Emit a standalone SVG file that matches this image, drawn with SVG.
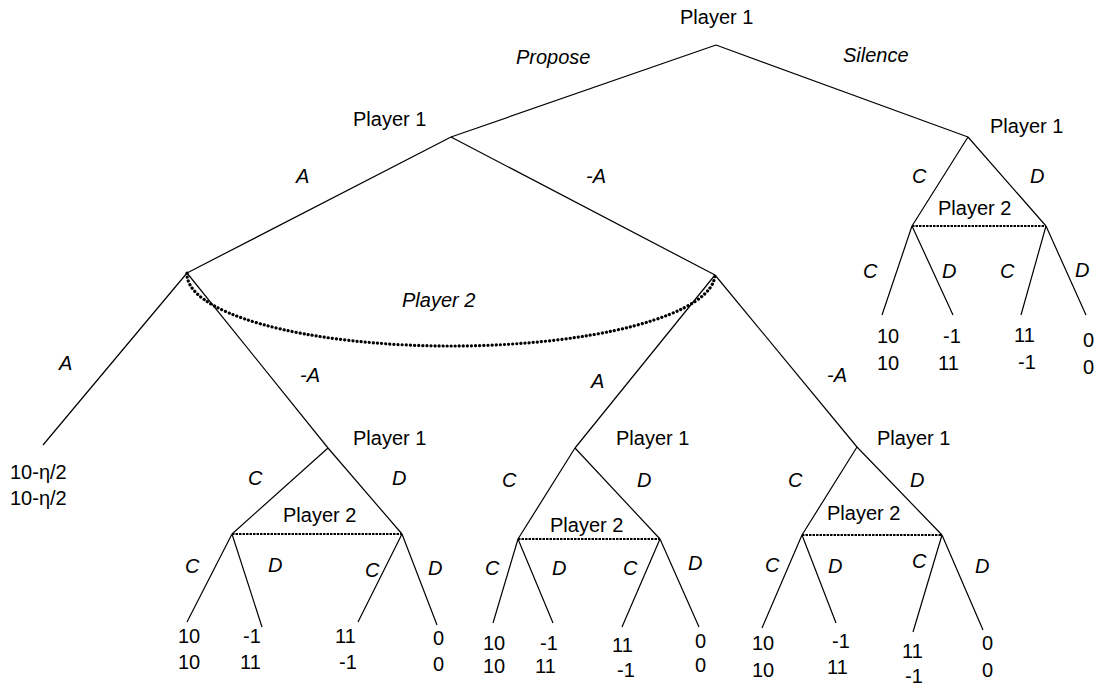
<svg xmlns="http://www.w3.org/2000/svg" width="1101" height="688" viewBox="0 0 1101 688">
<style>
text{font-family:"Liberation Sans",Arial,sans-serif;font-size:20px;fill:#000}
.i{font-style:italic}
.e{stroke:#000;stroke-width:1.2;fill:none}
.d{stroke:#000;stroke-width:2;stroke-dasharray:2.5 1;fill:none}
.c{stroke:#000;stroke-width:3.2;stroke-dasharray:0.1 4;stroke-linecap:round;fill:none}
</style>
<rect width="1101" height="688" fill="#fff"/>
<g id="connectors">
<path class="e" d="M716,45 L451,137 M716,45 L968,137"/>
<path class="e" d="M451,137 L187,273 M451,137 L715,275"/>
<path class="e" d="M968,137 L912,226 M968,137 L1046,226 M912,226 L882,315 M912,226 L953,315 M1046,226 L1021,315 M1046,226 L1086,315"/>
<path class="d" d="M912,226 L1046,226"/>
<path class="c" d="M187,273 A264,72 0 0 0 715,275"/>
<path class="e" d="M187,273 L43,445 M187,273 L328,448"/>
<path class="e" d="M328,448 L232,534 M328,448 L402,534 M232,534 L187,622 M232,534 L262,627 M402,534 L358,622 M402,534 L437,625"/>
<path class="d" d="M232,534 L402,534"/>
<path class="e" d="M715,275 L575,448"/>
<path class="e" d="M575,448 L518,539 M575,448 L660,539 M518,539 L493,623 M518,539 L553,623 M660,539 L622,627 M660,539 L699,627"/>
<path class="d" d="M518,539 L660,539"/>
<path class="e" d="M715,275 L857,447"/>
<path class="e" d="M857,447 L802,535 M857,447 L942,535 M802,535 L762,628 M802,535 L836,623 M942,535 L913,632 M942,535 L983,630"/>
<path class="d" d="M802,535 L942,535"/>
</g>
<g id="root"><text x="680" y="24">Player 1</text></g>
<g id="root-labels"><text class="i" x="516" y="64">Propose</text><text class="i" x="843" y="62">Silence</text></g>
<g id="p1-propose"><text x="353" y="126">Player 1</text><text class="i" x="296" y="183">A</text><text class="i" x="586" y="183">-A</text></g>
<g id="p1-silence">
<text x="990" y="133">Player 1</text>
<text class="i" x="912" y="183">C</text><text class="i" x="1030" y="183">D</text>
<text x="938" y="215">Player 2</text>
<text class="i" x="863" y="278">C</text><text class="i" x="942" y="278">D</text><text class="i" x="1000" y="278">C</text><text class="i" x="1075" y="277">D</text>
<text x="877" y="343">10</text><text x="877" y="370">10</text>
<text x="943" y="343">-1</text><text x="938" y="370">11</text>
<text x="1014" y="342">11</text><text x="1018" y="369">-1</text>
<text x="1083" y="347">0</text><text x="1083" y="374">0</text>
</g>
<g id="p2-infoset"><text class="i" x="402" y="307">Player 2</text></g>
<g id="leaf-A">
<text class="i" x="59" y="370">A</text>
<text x="10" y="479">10-η/2</text><text x="10" y="505">10-η/2</text>
<text class="i" x="300" y="382">-A</text>
</g>
<g id="sub-left">
<text x="353" y="445">Player 1</text>
<text class="i" x="248" y="485">C</text><text class="i" x="392" y="485">D</text>
<text x="283" y="522">Player 2</text>
<text class="i" x="185" y="573">C</text><text class="i" x="268" y="572">D</text><text class="i" x="365" y="577">C</text><text class="i" x="428" y="575">D</text>
<text x="178" y="643">10</text><text x="178" y="669">10</text>
<text x="243" y="643">-1</text><text x="240" y="669">11</text>
<text x="335" y="643">11</text><text x="339" y="669">-1</text>
<text x="433" y="645">0</text><text x="433" y="671">0</text>
</g>
<g id="sub-mid">
<text class="i" x="591" y="388">A</text>
<text x="616" y="445">Player 1</text>
<text class="i" x="502" y="487">C</text><text class="i" x="637" y="487">D</text>
<text x="550" y="532">Player 2</text>
<text class="i" x="485" y="575">C</text><text class="i" x="552" y="575">D</text><text class="i" x="623" y="575">C</text><text class="i" x="688" y="570">D</text>
<text x="483" y="650">10</text><text x="483" y="673">10</text>
<text x="540" y="650">-1</text><text x="535" y="673">11</text>
<text x="612" y="652">11</text><text x="617" y="677">-1</text>
<text x="695" y="648">0</text><text x="695" y="672">0</text>
</g>
<g id="sub-right">
<text class="i" x="827" y="382">-A</text>
<text x="877" y="445">Player 1</text>
<text class="i" x="788" y="487">C</text><text class="i" x="910" y="487">D</text>
<text x="827" y="520">Player 2</text>
<text class="i" x="765" y="572">C</text><text class="i" x="828" y="573">D</text><text class="i" x="912" y="568">C</text><text class="i" x="975" y="573">D</text>
<text x="752" y="650">10</text><text x="752" y="677">10</text>
<text x="832" y="648">-1</text><text x="827" y="674">11</text>
<text x="902" y="658">11</text><text x="905" y="683">-1</text>
<text x="982" y="650">0</text><text x="982" y="677">0</text>
</g>
</svg>
